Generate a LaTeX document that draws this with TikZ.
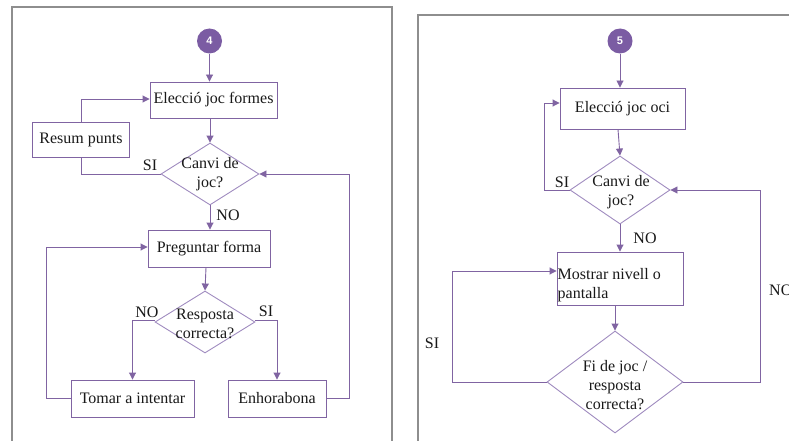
\documentclass[tikz,border=0pt]{standalone}
\usepackage{fontspec}
\setmainfont{Liberation Serif}
\newfontfamily\numfont{Liberation Sans}
\usetikzlibrary{shapes.geometric,arrows.meta}
\definecolor{flowline}{HTML}{8064A2}
\definecolor{diamline}{HTML}{A08CC0}
\definecolor{badge}{HTML}{7B5CA3}
\definecolor{framegray}{HTML}{8E8E8E}
\tikzset{
  x=1pt, y=-1pt,
  every node/.style={font=\fontsize{16}{19}\selectfont, text=black!90},
  proc/.style={draw=flowline, line width=0.9pt, fill=white, rectangle, inner sep=2pt,
               minimum width=#1, align=center},
  decision/.style={draw=diamline, line width=0.9pt, diamond, inner sep=0pt},
  badgenode/.style={circle, fill=badge, minimum size=25pt, inner sep=0pt,
               font=\numfont\bfseries\fontsize{11}{12}\selectfont, text=white},
  flow/.style={draw=flowline, line width=0.9pt, -{Triangle[length=7pt,width=7pt]}},
  plain/.style={draw=flowline, line width=0.9pt},
  tag/.style={inner sep=0pt},
  panel/.style={draw=framegray, line width=1.6pt}
}
\begin{document}
\begin{tikzpicture}
\useasboundingbox (0,0) rectangle (789,441);
\fill[white] (0,0) rectangle (789,441);

% panel frames
\draw[panel] (12,460) -- (12,7) -- (392,7) -- (392,460);
\draw[panel] (418,460) -- (418,15) -- (800,15);

% ---- game 4: shapes ----
\node[badgenode] (c4) at (209.5,41) {4};
\node[proc=127pt, minimum height=36pt] (e1) at (213.5,100) {Elecció joc formes};
\node[decision, minimum width=98pt, minimum height=62pt] (d1) at (210,174) {};
\node[tag, align=center] (d1t) at (d1.center) {Canvi de\\joc?};
\node[proc=97pt, minimum height=35pt] (rp) at (81,139.5) {Resum punts};
\node[proc=122pt, minimum height=37pt] (pf) at (209,248.5) {Preguntar forma};
\node[decision, minimum width=100pt, minimum height=62pt] (d2) at (205,322) {};
\node[tag, align=center] (d2t) at (205,324) {Resposta\\correcta?};
\node[proc=123pt, minimum height=37pt] (ti) at (132.5,398.5) {Tomar a intentar};
\node[proc=98pt, minimum height=37pt] (en) at (277,398.5) {Enhorabona};

\coordinate (lx4) at (46,0);
\coordinate (rx4) at (349,0);

% ---- game 4: connectors ----
\draw[flow] (c4.south) -- (c4.south |- e1.north);
\draw[flow] (e1.south -| d1.north) -- (d1.north);
\draw[plain] (d1.west) -| (rp.south);
\draw[flow] (rp.north) |- ([yshift=1pt]e1.west);
\draw[flow] (d1.south) -- (d1.south |- pf.north);
\draw[flow] (pf.south -| 206,0) -- (d2.north);
\draw[flow] ([yshift=2pt]d2.west) -| (ti.north);
\draw[flow] ([yshift=2pt]d2.east) -| (en.north);
\draw[flow] (ti.west) -- (ti.west -| lx4) |- ([yshift=1.5pt]pf.west);
\draw[flow] (en.east) -- (en.east -| rx4) |- (d1.east);

% ---- game 4: labels ----
\node[tag] (l41) at (150,165) {SI};
\node[tag] (l42) at (228,215) {NO};
\node[tag] (l43) at (147,312) {NO};
\node[tag] (l44) at (266,311) {SI};

% ---- game 5: shapes ----
\node[badgenode] (c5) at (620,41) {5};
\node[proc=125pt, minimum height=41pt] (e2) at (622.5,108.5) {Elecció joc oci};
\node[decision, minimum width=100pt, minimum height=68pt] (d3) at (620,190) {};
\node[tag, align=center] (d3t) at (621,192) {Canvi de\\joc?};
\node[proc=126pt, minimum height=53pt] (mn) at (620,278.5) {};
\node[tag, align=left, anchor=west] (mnt) at (557.5,285) {Mostrar nivell o\\pantalla};
\node[decision, minimum width=136pt, minimum height=102pt] (d4) at (615,382) {};
\node[tag, align=center] (d4t) at (615,385) {Fi de joc /\\resposta\\correcta?};

\coordinate (lx5) at (452,0);
\coordinate (rx5) at (760,0);
\coordinate (sx5) at (544,0);

% ---- game 5: connectors ----
\draw[flow] (c5.south) -- (c5.south |- e2.north);
\draw[flow] (e2.south -| 618,0) -- (d3.north);
\draw[flow] (d3.west) -- (d3.west -| sx5) |- ([yshift=5.5pt]e2.west);
\draw[flow] (d3.south) -- (d3.south |- mn.north);
\draw[flow] (mn.south -| d4.north) -- (d4.north);
\draw[flow] (d4.west) -- (d4.west -| lx5) |- ([yshift=7.5pt]mn.west);
\draw[flow] (d4.east) -- (d4.east -| rx5) |- (d3.east);

% ---- game 5: labels ----
\node[tag] (l51) at (562,182) {SI};
\node[tag] (l52) at (645,238) {NO};
\node[tag] (l53) at (432,343) {SI};
\node[tag, anchor=west] (l54) at (769,290) {NO};
\end{tikzpicture}
\end{document}
